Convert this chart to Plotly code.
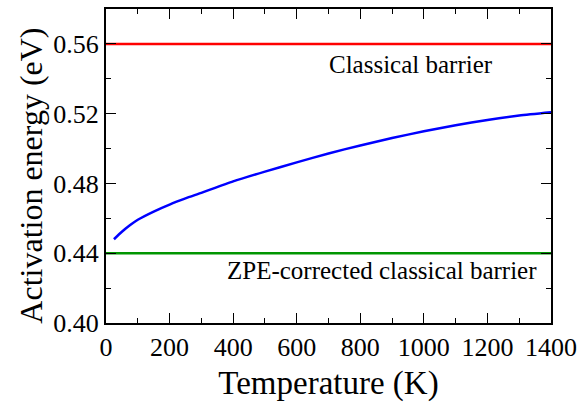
import plotly.graph_objects as go

# Data
temperature = [25, 50, 75, 100, 150, 200, 250, 300, 400, 500, 600, 700, 800, 900, 1000, 1100, 1200, 1300, 1400]
activation = [0.4480, 0.4523, 0.4560, 0.4592, 0.4639, 0.4679, 0.4714, 0.4746, 0.4812, 0.4868, 0.4921,
              0.4972, 0.5018, 0.5060, 0.5099, 0.5134, 0.5164, 0.5189, 0.5208]
barrier_x = [0, 1400]
classical_barrier = [0.56, 0.56]
zpe_barrier = [0.44, 0.44]
x_ticks = [0, 200, 400, 600, 800, 1000, 1200, 1400]
y_ticks = [0.40, 0.44, 0.48, 0.52, 0.56]
y_tick_labels = ["0.40", "0.44", "0.48", "0.52", "0.56"]

FONT = "Liberation Serif"

fig = go.Figure()
fig.add_trace(go.Scatter(x=barrier_x, y=classical_barrier, mode="lines",
                         line=dict(color="#ff0000", width=2.5), showlegend=False))
fig.add_trace(go.Scatter(x=barrier_x, y=zpe_barrier, mode="lines",
                         line=dict(color="#009600", width=2.5), showlegend=False))
fig.add_trace(go.Scatter(x=temperature, y=activation, mode="lines",
                         line=dict(color="#0000ff", width=2.5, shape="spline", smoothing=0.6), showlegend=False))

fig.add_annotation(x=960, y=0.548, text="Classical barrier", showarrow=False,
                   font=dict(family=FONT, size=25, color="black"))
fig.add_annotation(x=868, y=0.4303, text="ZPE-corrected classical barrier", showarrow=False,
                   font=dict(family=FONT, size=25, color="black"))
# y-axis title
fig.add_annotation(xref="paper", yref="paper", x=-0.168, y=0.47, xanchor="center", yanchor="middle",
                   text="Activation energy (eV)", textangle=-90, showarrow=False,
                   font=dict(family=FONT, size=32, color="black"))

axis_common = dict(showline=True, linecolor="black", linewidth=2, mirror="ticks",
                   ticks="inside", ticklen=10, tickwidth=1.3, tickcolor="black",
                   showgrid=False, zeroline=False,
                   tickfont=dict(family=FONT, size=26, color="black"))

fig.update_xaxes(range=[0, 1400], tickvals=x_ticks,
                 minor=dict(dtick=100, ticks="inside", ticklen=5, tickwidth=1.3, tickcolor="black"),
                 title=dict(text="Temperature (K)", font=dict(family=FONT, size=33, color="black"), standoff=10),
                 **axis_common)
fig.update_yaxes(range=[0.40, 0.58], tickvals=y_ticks, ticktext=y_tick_labels,
                 minor=dict(dtick=0.02, ticks="inside", ticklen=5, tickwidth=1.3, tickcolor="black"),
                 **axis_common)

fig.update_layout(width=584, height=405, margin=dict(l=106, r=28, t=7, b=82),
                  plot_bgcolor="white", paper_bgcolor="white",
                  font=dict(family=FONT))

fig.write_html("out.html")
